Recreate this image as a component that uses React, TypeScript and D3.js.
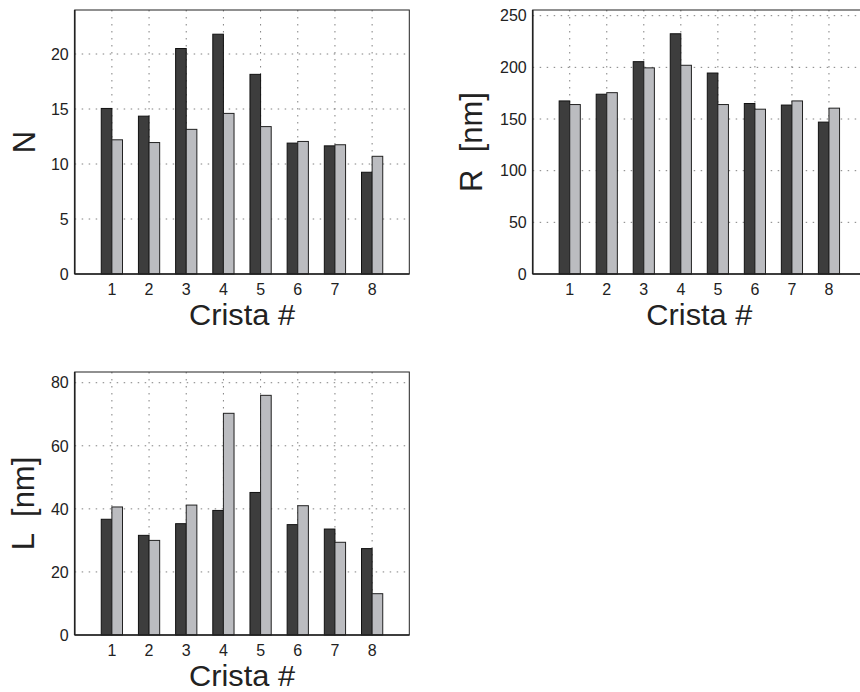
import React from 'react';
import * as d3 from 'd3';

// crista numbers on the x axis
const cristae = [1, 2, 3, 4, 5, 6, 7, 8];

// N per crista (dark / light series)
const nDark = [15.05, 14.35, 20.5, 21.8, 18.15, 11.9, 11.65, 9.25];
const nLight = [12.2, 11.95, 13.15, 14.6, 13.4, 12.05, 11.75, 10.7];

// R [nm]
const rDark = [167.5, 174, 205.5, 232.5, 194.5, 165, 163.5, 147];
const rLight = [164, 175.5, 199.5, 202, 164, 159.5, 167.5, 160.5];

// L [nm]
const lDark = [36.7, 31.6, 35.3, 39.5, 45.2, 35.0, 33.6, 27.4];
const lLight = [40.6, 30.0, 41.2, 70.3, 76.0, 41.0, 29.4, 13.1];

const nTicks = [0, 5, 10, 15, 20];
const rTicks = [0, 50, 100, 150, 200, 250];
const lTicks = [0, 20, 40, 60, 80];

const DARK = '#3d3d3d';
const LIGHT = '#bbbcc0';
const FONT = '"Liberation Sans", Arial, Helvetica, sans-serif';

type PanelProps = {
  left: number;
  right: number;
  top: number;
  bottom: number;
  yMax: number;
  ticks: number[];
  dark: number[];
  light: number[];
  yLabel: string;
  yLabelX: number;
};

const Panel = ({ left, right, top, bottom, yMax, ticks, dark, light, yLabel, yLabelX }: PanelProps) => {
  const x = d3.scaleLinear().domain([0, 9]).range([left, right]);
  const y = d3.scaleLinear().domain([0, yMax]).range([bottom, top]);
  const barW = 2 / 7; // matlab grouped bar width
  const midY = (top + bottom) / 2;

  return (
    <g>
      {/* grid */}
      {ticks.filter(t => t > 0).map(t => (
        <line key={'h' + t} x1={left} x2={right} y1={y(t)} y2={y(t)}
          stroke="#808080" strokeWidth={1} strokeDasharray="1.5,5.5" />
      ))}
      {cristae.map(c => (
        <line key={'v' + c} x1={x(c)} x2={x(c)} y1={top} y2={bottom}
          stroke="#808080" strokeWidth={1} strokeDasharray="1.5,5.5" />
      ))}

      {/* bars */}
      {cristae.map((c, i) => (
        <g key={'b' + c}>
          <rect x={x(c - barW)} y={y(dark[i])} width={x(c) - x(c - barW)} height={y(0) - y(dark[i])}
            fill={DARK} stroke="#111" strokeWidth={1} />
          <rect x={x(c)} y={y(light[i])} width={x(c + barW) - x(c)} height={y(0) - y(light[i])}
            fill={LIGHT} stroke="#222" strokeWidth={1} />
        </g>
      ))}

      {/* box */}
      <rect x={left} y={top} width={right - left} height={bottom - top}
        fill="none" stroke="#222" strokeWidth={1} />
      <line x1={left} x2={right} y1={bottom} y2={bottom} stroke="#222" strokeWidth={1.6} />
      <line x1={left} x2={left} y1={top} y2={bottom} stroke="#222" strokeWidth={1.6} />

      {/* y tick labels */}
      {ticks.map(t => (
        <text key={'yt' + t} x={left - 6} y={y(t)} dy="0.36em" textAnchor="end"
          fontSize={16} fill="#222">{t}</text>
      ))}

      {/* x tick labels */}
      {cristae.map(c => (
        <text key={'xt' + c} x={x(c)} y={bottom + 20.5} textAnchor="middle"
          fontSize={16} fill="#222">{c}</text>
      ))}

      <text x={(left + right) / 2} y={bottom + 50.5} textAnchor="middle"
        fontSize={29} textLength={106} lengthAdjust="spacingAndGlyphs" fill="#222">Crista #</text>

      <text transform={`translate(${yLabelX},${midY}) rotate(-90)`} textAnchor="middle"
        fontSize={31} fill="#222" style={{ whiteSpace: 'pre' }}>{yLabel}</text>
    </g>
  );
};

const App = () => {
  return (
    <svg width={860} height={692} style={{ position: 'absolute', left: 0, top: 0, fontFamily: FONT, background: '#fff' }}>
      <Panel left={74.7} right={409.3} top={10} bottom={274} yMax={24} ticks={nTicks}
        dark={nDark} light={nLight} yLabel="N" yLabelX={34.5} />
      <Panel left={532.7} right={866} top={10} bottom={274} yMax={255.5} ticks={rTicks}
        dark={rDark} light={rLight} yLabel="R  [nm]" yLabelX={482} />
      <Panel left={74.7} right={409.3} top={372} bottom={635} yMax={83.4} ticks={lTicks}
        dark={lDark} light={lLight} yLabel="L  [nm]" yLabelX={33.5} />
    </svg>
  );
};

export default App;
